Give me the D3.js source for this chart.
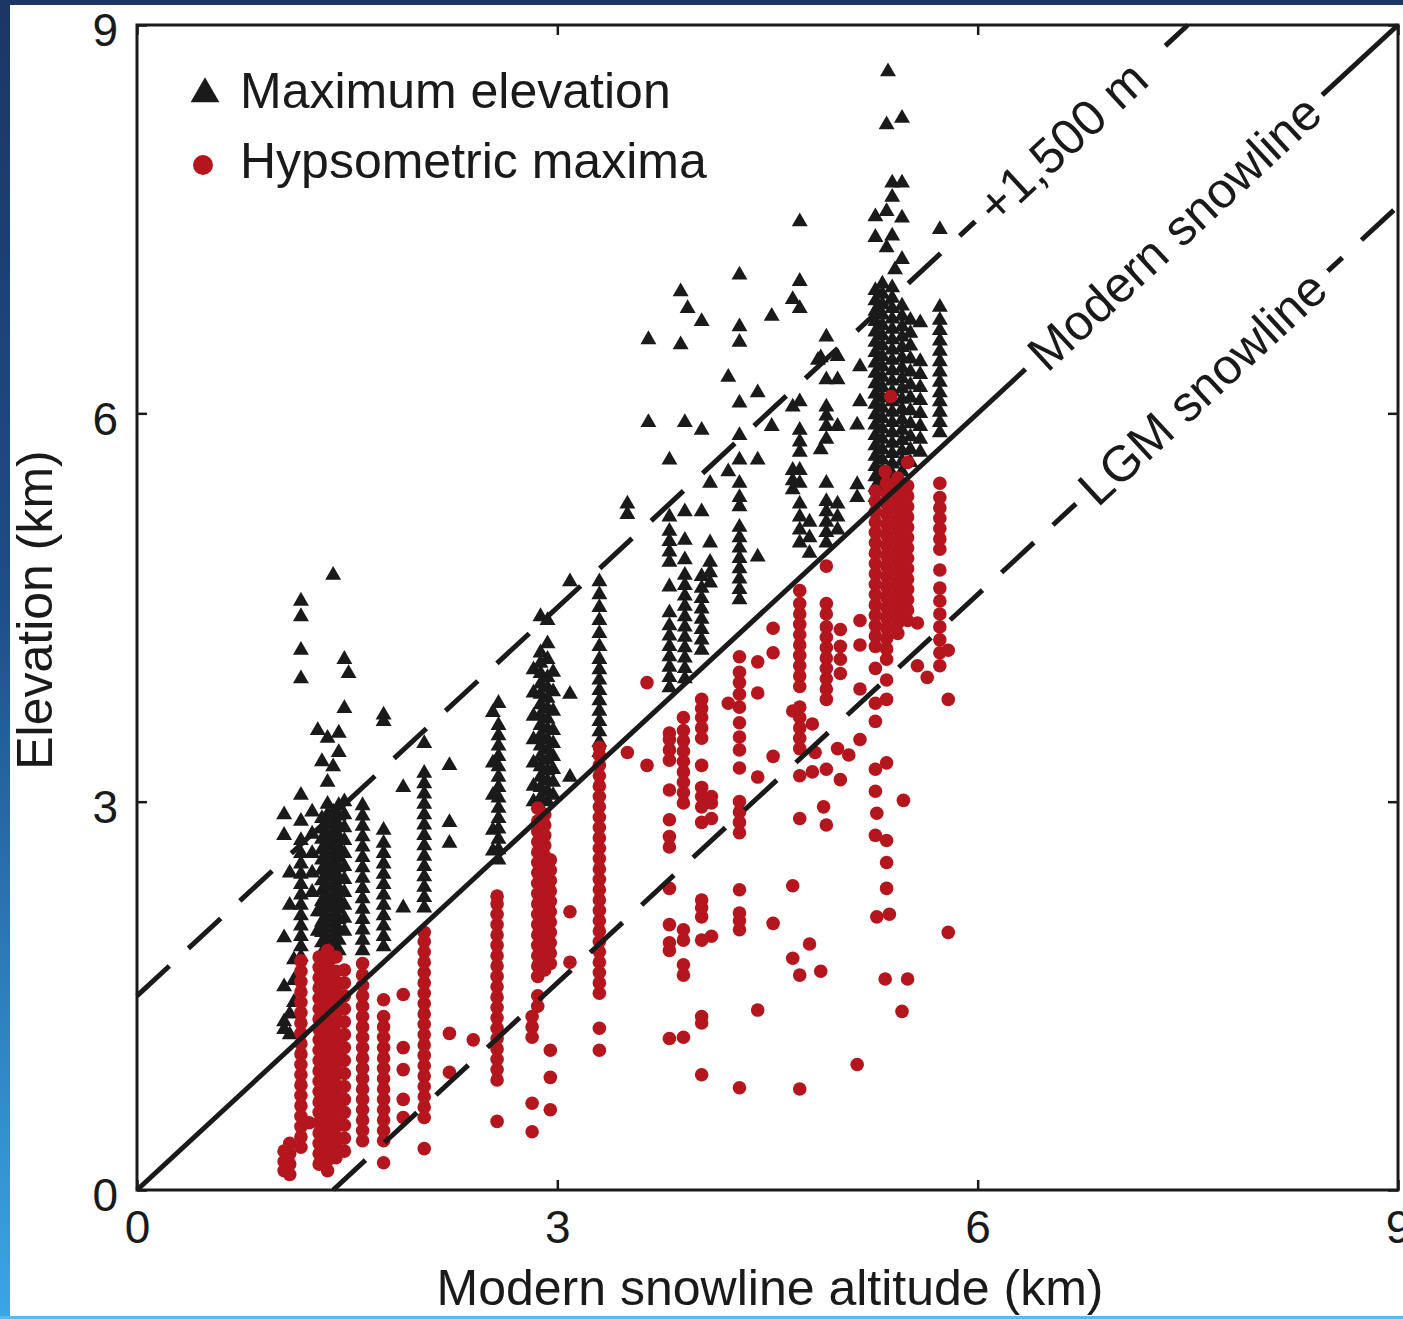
<!DOCTYPE html>
<html>
<head>
<meta charset="utf-8">
<script src="https://cdn.jsdelivr.net/npm/d3@7"></script>
<style>
  body { margin: 0; background: #fff; }
  svg { display: block; }
  text { font-family: "Liberation Sans", Arial, Helvetica, sans-serif; fill: #1a1a1a; }
</style>
</head>
<body>
<div id="container"></div>
<script>
"use strict";

const xTicks = [0, 3, 6, 9];
const yTicks = [0, 3, 6, 9];

// [modern snowline altitude (km), elevations (km) read at that altitude]
const maxElevation = [
  [1.05, [1.24, 1.30, 1.57, 1.95, 2.74, 2.90]],
  [1.09, [1.20, 1.36, 2.20, 2.45]],
  [1.12, [1.45, 1.62, 1.78]],
  [1.17, [1.80, 1.88, 1.96, 2.04, 2.12, 2.20, 2.28, 2.36, 2.44, 2.52, 2.60, 2.70, 2.85, 3.05, 3.95, 4.17, 4.43, 4.55]],
  [1.25, [2.30, 2.45, 2.60, 2.75, 2.92]],
  [1.29, [2.00, 2.15, 3.55]],
  [1.32, [1.75, 1.83, 1.91, 1.99, 2.07, 2.15, 2.23, 2.31, 2.39, 2.47, 2.55, 2.63, 2.71, 2.79, 2.87, 3.31]],
  [1.36, [1.70, 1.78, 1.86, 1.94, 2.02, 2.10, 2.18, 2.26, 2.34, 2.42, 2.50, 2.58, 2.66, 2.74, 2.82, 2.90, 2.98, 3.15, 3.49]],
  [1.40, [1.80, 1.88, 1.96, 2.04, 2.12, 2.20, 2.28, 2.36, 2.44, 2.52, 2.60, 2.68, 2.76, 2.84, 2.92, 3.27, 4.75]],
  [1.44, [1.85, 1.93, 2.01, 2.09, 2.17, 2.25, 2.33, 2.41, 2.49, 2.57, 2.65, 2.73, 2.81, 2.89, 2.97, 3.38, 3.53]],
  [1.48, [2.00, 2.10, 2.20, 2.30, 2.40, 2.50, 2.60, 2.70, 2.80, 2.90, 3.00, 3.72, 4.10]],
  [1.51, [3.99]],
  [1.61, [1.85, 1.93, 2.01, 2.09, 2.17, 2.25, 2.33, 2.41, 2.49, 2.57, 2.65, 2.73, 2.81, 2.89, 2.97]],
  [1.76, [1.88, 1.96, 2.04, 2.12, 2.20, 2.28, 2.36, 2.44, 2.52, 2.60, 2.68, 2.78, 3.62, 3.67]],
  [1.90, [2.18, 3.11]],
  [2.05, [2.18, 2.26, 2.34, 2.42, 2.50, 2.58, 2.66, 2.74, 2.82, 2.90, 2.98, 3.06, 3.14, 3.22, 3.45]],
  [2.23, [2.68, 2.84, 3.28]],
  [2.54, [2.62, 2.78, 3.05, 3.30, 3.69]],
  [2.58, [2.55, 2.63, 2.71, 2.79, 2.87, 2.95, 3.03, 3.11, 3.19, 3.27, 3.35, 3.43, 3.51, 3.59, 3.76]],
  [2.83, [3.00, 3.12, 3.30, 3.48, 3.66, 3.84, 4.02]],
  [2.88, [2.95, 3.03, 3.11, 3.19, 3.27, 3.35, 3.43, 3.51, 3.59, 3.67, 3.75, 3.83, 3.91, 3.99, 4.07, 4.15, 4.43]],
  [2.93, [3.00, 3.08, 3.16, 3.24, 3.32, 3.40, 3.48, 3.56, 3.64, 3.72, 3.80, 3.88, 3.96, 4.10, 4.22, 4.40]],
  [2.97, [3.05, 3.15, 3.25, 3.35, 3.45, 3.55, 3.70, 3.85, 4.00]],
  [3.09, [3.19, 3.83, 4.70]],
  [3.30, [3.38, 3.46, 3.54, 3.62, 3.70, 3.78, 3.86, 3.94, 4.02, 4.10, 4.20, 4.30, 4.40, 4.50, 4.60, 4.70]],
  [3.50, [5.22, 5.30]],
  [3.65, [5.93, 6.57]],
  [3.80, [3.88, 3.96, 4.04, 4.12, 4.20, 4.28, 4.36, 4.46, 4.66, 4.85, 4.93, 5.01, 5.09, 5.20, 5.64]],
  [3.88, [6.53, 6.94]],
  [3.91, [3.95, 4.03, 4.11, 4.19, 4.27, 4.35, 4.43, 4.51, 4.59, 4.67, 4.75, 4.87, 5.02, 5.24, 5.93]],
  [3.93, [6.81]],
  [4.03, [4.17, 4.25, 4.33, 4.41, 4.49, 4.57, 4.65, 4.74, 5.24, 5.87, 6.71]],
  [4.09, [4.69, 4.77, 4.85, 5.00, 5.46]],
  [4.22, [5.55, 6.28]],
  [4.30, [4.56, 4.64, 4.72, 4.80, 4.88, 4.96, 5.04, 5.12, 5.28, 5.35, 5.46, 5.64, 5.83, 6.08, 6.55, 6.67, 7.07]],
  [4.43, [4.89, 5.64, 6.16]],
  [4.53, [5.90, 6.75]],
  [4.68, [5.41, 5.48, 5.56, 6.05, 6.88]],
  [4.73, [5.00, 5.10, 5.20, 5.30, 5.46, 5.56, 5.70, 5.78, 5.87, 6.09, 6.81, 7.02, 7.48]],
  [4.80, [4.92, 5.04, 5.16]],
  [4.86, [6.41]],
  [4.88, [5.72, 6.43]],
  [4.92, [5.00, 5.08, 5.16, 5.24, 5.32, 5.46, 5.80, 5.90, 5.98, 6.05, 6.26, 6.59]],
  [5.00, [5.10, 5.20, 5.30, 5.90, 6.26, 6.44]],
  [5.14, [5.35, 5.45, 5.91]],
  [5.16, [6.09, 6.36]],
  [5.27, [5.35, 5.43, 5.51, 5.59, 5.67, 5.75, 5.83, 5.91, 5.99, 6.07, 6.15, 6.23, 6.31, 6.39, 6.47, 6.55, 6.63, 6.71, 6.79, 6.87, 6.95, 7.36, 7.52]],
  [5.32, [5.40, 5.48, 5.56, 5.64, 5.72, 5.80, 5.88, 5.96, 6.04, 6.12, 6.20, 6.28, 6.36, 6.44, 6.52, 6.60, 6.68, 6.76, 6.84, 6.92, 7.00]],
  [5.35, [7.28, 7.56, 8.23]],
  [5.36, [8.64]],
  [5.39, [5.45, 5.53, 5.61, 5.69, 5.77, 5.85, 5.93, 6.01, 6.09, 6.17, 6.25, 6.33, 6.41, 6.49, 6.57, 6.65, 6.73, 6.81, 6.89, 6.97, 7.37, 7.67, 7.78]],
  [5.41, [7.11]],
  [5.46, [5.55, 5.63, 5.71, 5.79, 5.87, 5.95, 6.03, 6.11, 6.19, 6.27, 6.35, 6.43, 6.51, 6.59, 6.67, 6.75, 6.83, 7.19, 7.51, 7.78, 8.28]],
  [5.52, [5.62, 5.72, 5.82, 5.92, 6.02, 6.12, 6.22, 6.32, 6.42, 6.52, 6.62, 6.72]],
  [5.59, [5.70, 5.80, 5.90, 6.00, 6.10, 6.20, 6.30, 6.40, 6.70]],
  [5.73, [5.85, 5.93, 6.01, 6.09, 6.16, 6.24, 6.32, 6.40, 6.48, 6.56, 6.64, 6.72, 6.82, 7.42]],
];

const hypsometricMaxima = [
  [1.05, [0.15, 0.22, 0.30]],
  [1.09, [0.12, 0.20, 0.28, 0.36]],
  [1.17, [0.33, 0.41, 0.49, 0.57, 0.65, 0.73, 0.81, 0.89, 0.97, 1.05, 1.13, 1.21, 1.29, 1.37, 1.45, 1.53, 1.61, 1.69, 1.77]],
  [1.23, [0.52]],
  [1.30, [0.20, 0.28, 0.36, 0.44, 0.52, 0.60, 0.68, 0.76, 0.84, 0.92, 1.00, 1.08, 1.16, 1.24, 1.32, 1.40, 1.48, 1.56, 1.64, 1.72, 1.80]],
  [1.36, [0.15, 0.23, 0.31, 0.39, 0.47, 0.55, 0.63, 0.71, 0.79, 0.87, 0.95, 1.03, 1.11, 1.19, 1.27, 1.35, 1.43, 1.51, 1.59, 1.67, 1.75, 1.85]],
  [1.42, [0.25, 0.33, 0.41, 0.49, 0.57, 0.65, 0.73, 0.81, 0.89, 0.97, 1.05, 1.13, 1.21, 1.29, 1.37, 1.45, 1.53, 1.61, 1.69, 1.80]],
  [1.48, [0.30, 0.40, 0.50, 0.60, 0.70, 0.80, 0.90, 1.00, 1.10, 1.20, 1.30, 1.40, 1.50, 1.60, 1.70]],
  [1.61, [0.38, 0.46, 0.54, 0.62, 0.70, 0.78, 0.86, 0.94, 1.02, 1.10, 1.18, 1.26, 1.34, 1.42, 1.50, 1.58, 1.66, 1.75]],
  [1.76, [0.21, 0.38, 0.46, 0.54, 0.62, 0.70, 0.78, 0.86, 0.94, 1.02, 1.10, 1.18, 1.26, 1.34, 1.47]],
  [1.90, [0.56, 0.70, 0.93, 1.10, 1.51]],
  [2.05, [0.32, 0.56, 0.64, 0.72, 0.80, 0.88, 0.96, 1.04, 1.12, 1.20, 1.28, 1.36, 1.44, 1.52, 1.60, 1.68, 1.76, 1.84, 1.92, 1.99]],
  [2.23, [0.91, 1.21]],
  [2.40, [1.16]],
  [2.57, [0.53, 0.85, 0.93, 1.01, 1.09, 1.17, 1.25, 1.33, 1.41, 1.49, 1.57, 1.65, 1.73, 1.81, 1.89, 1.97, 2.05, 2.13, 2.21, 2.27]],
  [2.82, [0.45, 0.67, 1.18, 1.26, 1.34]],
  [2.86, [1.42, 1.50, 1.65, 1.73, 1.81, 1.89, 1.97, 2.05, 2.13, 2.21, 2.29, 2.37, 2.45, 2.53, 2.61, 2.69, 2.77, 2.85, 2.95]],
  [2.91, [1.70, 1.78, 1.86, 1.94, 2.02, 2.10, 2.18, 2.26, 2.34, 2.42, 2.50, 2.58, 2.66, 2.74, 2.82, 2.90]],
  [2.95, [0.62, 0.87, 1.08, 1.75, 1.83, 1.91, 1.99, 2.07, 2.15, 2.23, 2.31, 2.39, 2.47, 2.55]],
  [3.09, [1.76, 2.15]],
  [3.30, [1.08, 1.25, 1.52, 1.60, 1.68, 1.76, 1.84, 1.92, 2.00, 2.08, 2.16, 2.24, 2.32, 2.40, 2.48, 2.56, 2.64, 2.72, 2.80, 2.88, 2.96, 3.04, 3.12, 3.20, 3.28, 3.36, 3.42]],
  [3.50, [3.38]],
  [3.64, [3.28, 3.92]],
  [3.80, [1.17, 1.85, 1.91, 2.05, 2.33, 2.65, 2.73, 2.86, 3.09, 3.32, 3.40, 3.48, 3.53]],
  [3.90, [1.18, 1.66, 1.74, 1.93, 2.01, 2.99, 3.07, 3.15, 3.23, 3.31, 3.39, 3.47, 3.55, 3.65]],
  [4.03, [0.89, 1.29, 1.34, 1.93, 2.11, 2.18, 2.24, 2.84, 2.96, 3.04, 3.11, 3.28, 3.49, 3.57, 3.65, 3.72, 3.79]],
  [4.10, [1.96, 2.87, 2.99, 3.04]],
  [4.22, [3.76]],
  [4.30, [0.79, 2.01, 2.08, 2.14, 2.32, 2.76, 2.84, 2.92, 3.00, 3.26, 3.40, 3.50, 3.61, 3.73, 3.83, 3.92, 4.00, 4.12]],
  [4.43, [1.39, 3.19, 3.84, 4.08]],
  [4.54, [2.06, 3.35, 4.15, 4.34]],
  [4.68, [1.79, 2.35, 3.70]],
  [4.73, [0.78, 1.66, 2.87, 3.20, 3.41, 3.49, 3.57, 3.65, 3.73, 3.89, 3.97, 4.05, 4.13, 4.21, 4.29, 4.37, 4.45, 4.53, 4.63]],
  [4.80, [1.90]],
  [4.82, [3.23, 3.60]],
  [4.84, [3.38]],
  [4.88, [1.69]],
  [4.90, [2.96]],
  [4.92, [2.82, 3.25, 3.79, 3.87, 3.95, 4.03, 4.11, 4.19, 4.27, 4.35, 4.45, 4.53, 4.82]],
  [5.00, [3.41]],
  [5.02, [3.17, 3.99, 4.10, 4.20, 4.33]],
  [5.08, [3.36]],
  [5.14, [0.97]],
  [5.16, [3.48, 3.87, 4.21, 4.40]],
  [5.27, [2.74, 3.08, 3.25, 3.62, 3.76, 4.03, 4.20, 4.28, 4.36, 4.44, 4.52, 4.60, 4.68, 4.76, 4.84, 4.92, 5.00, 5.08, 5.16, 5.24, 5.32, 5.40]],
  [5.28, [2.11, 2.91]],
  [5.34, [1.63, 5.55]],
  [5.35, [2.33, 2.53, 2.70, 3.30, 3.79, 3.94, 4.10, 4.18, 4.26, 4.34, 4.42, 4.50, 4.58, 4.66, 4.74, 4.82, 4.90, 4.98, 5.06, 5.14, 5.22, 5.30, 5.38, 5.46]],
  [5.37, [2.13]],
  [5.38, [6.13]],
  [5.43, [4.30, 4.38, 4.46, 4.54, 4.62, 4.70, 4.78, 4.86, 4.94, 5.02, 5.10, 5.18, 5.26, 5.34, 5.42, 5.50]],
  [5.46, [1.38]],
  [5.47, [3.01]],
  [5.50, [1.63, 4.40, 4.48, 4.56, 4.64, 4.72, 4.80, 4.88, 4.96, 5.04, 5.12, 5.20, 5.28, 5.36, 5.44, 5.62]],
  [5.57, [4.05, 4.38]],
  [5.64, [3.96]],
  [5.73, [4.05, 4.15, 4.25, 4.35, 4.45, 4.55, 4.65, 4.79, 4.95, 5.03, 5.11, 5.19, 5.27, 5.35, 5.46]],
  [5.79, [1.99, 3.79, 4.17]],
];

// Reference lines: elevation = snowline + offset (km).
const lineNames = ["+1,500 m", "Modern snowline", "LGM snowline"];
const lineOffsets = [1.5, 0, -1.4];
const lineLabelAt = [6.6, 7.4, 7.6]; // snowline altitude (km) at the label centre

const legendNames = ["Maximum elevation", "Hypsometric maxima"];

const width = 1403;
const height = 1319;
const plot = { left: 137, right: 1398, top: 25, bottom: 1190 };
const red = "#b5161e";
const ink = "#1a1a1a";

const x = d3.scaleLinear().domain([0, 9]).range([plot.left, plot.right]);
const y = d3.scaleLinear().domain([0, 9]).range([plot.bottom, plot.top]);

const svg = d3.create("svg").attr("width", width).attr("height", height);
d3.select("#container").append(() => svg.node());

// Page frame (the dark blue border around the figure).
const grad = svg.append("defs").append("linearGradient")
  .attr("id", "edge").attr("x1", 0).attr("y1", 0).attr("x2", 0).attr("y2", 1);
grad.append("stop").attr("offset", "0%").attr("stop-color", "#1b3664");
grad.append("stop").attr("offset", "45%").attr("stop-color", "#1f4d86");
grad.append("stop").attr("offset", "100%").attr("stop-color", "#3aa7e6");
svg.append("rect").attr("width", width).attr("height", height).attr("fill", "#fff");
svg.append("rect").attr("width", width).attr("height", 5).attr("fill", "#1b3664");
svg.append("rect").attr("width", 10).attr("height", height).attr("fill", "url(#edge)");
svg.append("rect").attr("y", height - 3).attr("width", width).attr("height", 3).attr("fill", "#5ab8ea");

const flatten = (cols) => cols.flatMap(([sx, ys]) => ys.map((e) => ({ x: sx, y: e })));

// Axes with inward ticks on all four sides.
const fontSize = 46;
svg.append("g")
  .attr("transform", `translate(0, ${plot.bottom})`)
  .call(d3.axisBottom(x).tickValues(xTicks).tickSizeInner(-10).tickSizeOuter(0).tickPadding(20))
  .call((g) => g.select(".domain").remove())
  .attr("font-size", fontSize)
  .attr("font-family", null)
  .call((g) => g.selectAll("line").attr("stroke", ink).attr("stroke-width", 2.5));

svg.append("g")
  .attr("transform", `translate(${plot.left}, 0)`)
  .call(d3.axisLeft(y).tickValues(yTicks).tickSizeInner(-10).tickSizeOuter(0).tickPadding(19))
  .call((g) => g.select(".domain").remove())
  .attr("font-size", fontSize)
  .attr("font-family", null)
  .call((g) => g.selectAll("text").attr("dy", "0.45em"))
  .call((g) => g.selectAll("line").attr("stroke", ink).attr("stroke-width", 2.5));

svg.append("g")
  .attr("transform", `translate(0, ${plot.top})`)
  .call(d3.axisTop(x).tickValues(xTicks).tickSizeInner(-10).tickSizeOuter(0).tickFormat(""))
  .call((g) => g.select(".domain").remove())
  .call((g) => g.selectAll("line").attr("stroke", ink).attr("stroke-width", 2.5));

svg.append("g")
  .attr("transform", `translate(${plot.right}, 0)`)
  .call(d3.axisRight(y).tickValues(yTicks).tickSizeInner(-10).tickSizeOuter(0).tickFormat(""))
  .call((g) => g.select(".domain").remove())
  .call((g) => g.selectAll("line").attr("stroke", ink).attr("stroke-width", 2.5));

// Points.
const tri = d3.symbol().type(d3.symbolTriangle).size(110);
svg.append("g")
  .selectAll("path")
  .data(flatten(maxElevation))
  .join("path")
  .attr("d", tri)
  .attr("transform", (d) => `translate(${x(d.x)}, ${y(d.y)})`)
  .attr("fill", ink);

svg.append("g")
  .selectAll("circle")
  .data(flatten(hypsometricMaxima))
  .join("circle")
  .attr("cx", (d) => x(d.x))
  .attr("cy", (d) => y(d.y))
  .attr("r", 6.8)
  .attr("fill", red);

// Snowline reference lines.
const lines = lineOffsets.map((off, i) => {
  const x0 = Math.max(0, -off);
  const x1 = Math.min(9, 9 - off);
  return { name: lineNames[i], off, x0, x1, at: lineLabelAt[i] };
});

svg.append("g")
  .selectAll("line")
  .data(lines)
  .join("line")
  .attr("x1", (d) => x(d.x0))
  .attr("y1", (d) => y(d.x0 + d.off))
  .attr("x2", (d) => x(d.x1))
  .attr("y2", (d) => y(d.x1 + d.off))
  .attr("stroke", ink)
  .attr("stroke-width", 5)
  .attr("stroke-dasharray", (d) => (d.off === 0 ? null : "44,26"));

const angle = (Math.atan2(y(0) - y(1), x(1) - x(0)) * 180) / Math.PI;
const labels = svg.append("g")
  .selectAll("g")
  .data(lines)
  .join("g")
  .attr("transform", (d) => `translate(${x(d.at)}, ${y(d.at + d.off)}) rotate(${-angle})`);

labels.append("rect").attr("fill", "#fff");
labels.append("text")
  .attr("text-anchor", "middle")
  .attr("dy", "0.36em")
  .attr("font-size", 50)
  .text((d) => d.name);
labels.each(function () {
  const g = d3.select(this);
  const len = g.select("text").node().getComputedTextLength() + 26;
  g.select("rect").attr("x", -len / 2).attr("y", -12).attr("width", len).attr("height", 24);
});

// Plot frame.
svg.append("rect")
  .attr("x", plot.left)
  .attr("y", plot.top)
  .attr("width", plot.right - plot.left)
  .attr("height", plot.bottom - plot.top)
  .attr("fill", "none")
  .attr("stroke", ink)
  .attr("stroke-width", 3);

// Legend.
const legend = svg.append("g");
legend.append("path")
  .attr("d", d3.symbol().type(d3.symbolTriangle).size(360))
  .attr("transform", "translate(205, 94)")
  .attr("fill", ink);
legend.append("circle").attr("cx", 203).attr("cy", 165).attr("r", 10).attr("fill", red);
legend.selectAll("text")
  .data(legendNames)
  .join("text")
  .attr("x", 240)
  .attr("y", (d, i) => 108 + i * 70)
  .attr("font-size", 50)
  .text((d) => d);

// Axis titles.
svg.append("text")
  .attr("x", 770)
  .attr("y", 1305)
  .attr("text-anchor", "middle")
  .attr("font-size", 50)
  .text("Modern snowline altitude (km)");

svg.append("text")
  .attr("transform", "translate(52, 610) rotate(-90)")
  .attr("text-anchor", "middle")
  .attr("font-size", 50)
  .text("Elevation (km)");
</script>
</body>
</html>
